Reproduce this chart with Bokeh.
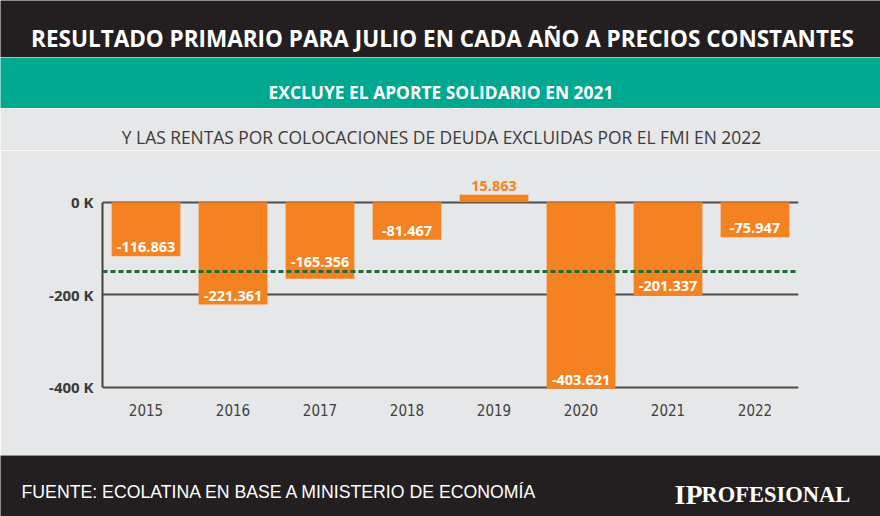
from bokeh.plotting import figure
from bokeh.layouts import column, row
from bokeh.models import Range1d, FactorRange, FixedTicker, Span, ColumnDataSource
from bokeh.core.properties import value
from bokeh.embed import file_html
from bokeh.resources import INLINE

# ---- data ----
years = ["2015", "2016", "2017", "2018", "2019", "2020", "2021", "2022"]
resultado = [-116863, -221361, -165356, -81467, 15863, -403621, -201337, -75947]
referencia = -150000
y_ticks = [0, -200000, -400000]
y_tick_labels = ["0 K", "-200 K", "-400 K"]

titulo = "RESULTADO PRIMARIO PARA JULIO EN CADA AÑO A PRECIOS CONSTANTES"
subtitulo = "EXCLUYE EL APORTE SOLIDARIO EN 2021"
nota = "Y LAS RENTAS POR COLOCACIONES DE DEUDA EXCLUIDAS POR EL FMI EN 2022"
fuente = "FUENTE: ECOLATINA EN BASE A MINISTERIO DE ECONOMÍA"
marca_a = "IP"
marca_b = "ROFESIONAL"

# ---- styles ----
W = 880
FL, FR = 102, 798          # chart frame left / right (page pixels)
DARK = "#231f20"
GREEN = "#00a88f"
GRAY = "#e6e7e8"
ORANGE = "#f58220"


def band(h, color):
    b = figure(width=W, height=h, x_range=Range1d(0, W), y_range=Range1d(0, h),
               x_axis_location=None, y_axis_location=None, toolbar_location=None,
               output_backend="svg", min_border=0, background_fill_color=color,
               border_fill_color=color, outline_line_color=None)
    b.grid.visible = False
    return b


def txt(fig, x, y, s, font, size, color="white", style="normal", align="center"):
    fig.text(x=[x], y=[y], text=[s], text_font=value(font), text_font_size=size,
             text_font_style=style, text_color=color, text_align=align,
             text_baseline="alphabetic")


hdr = band(57, DARK)
txt(hdr, 442, 19.3, titulo, "Open Sans", "22.5px", style="bold")

grn = band(51, GREEN)
txt(grn, 440.5, 17, subtitulo, "Open Sans", "17.4px", style="bold")

sub = band(42, GRAY)
txt(sub, 441, 13.3, nota, "Open Sans", "17.4px", color="#3a3a3a")

# ---- chart ----
labels = [f"{v:,}".replace(",", ".") for v in resultado]
label_colors = ["white" if v < 0 else ORANGE for v in resultado]
# lift a label that would sit on the dashed reference line
label_offsets = [-17 if abs(v - referencia) < 20000 else -9 for v in resultado]
src = ColumnDataSource(dict(year=years, value=resultado, label=labels,
                            color=label_colors, dy=label_offsets))

p = figure(width=W, height=305, x_range=FactorRange(factors=years),
           y_range=Range1d(-411500, 68500), toolbar_location=None, output_backend="svg",
           min_border_left=FL, min_border_right=W - FR, min_border_top=20, min_border_bottom=63,
           background_fill_color=GRAY, border_fill_color=GRAY,
           outline_line_color=GRAY, outline_line_width=2)

p.vbar(x="year", top="value", bottom=0, width=0.79, source=src,
       fill_color=ORANGE, line_color=None)
p.text(x="year", y="value", text="label", text_color="color", source=src,
       text_align="center", text_baseline="middle", y_offset="dy",
       text_font=value("Open Sans"), text_font_style="bold", text_font_size="14.5px")

p.add_layout(Span(location=referencia, dimension="width", line_color="#1d6b37",
                  line_width=3, line_dash="5 3"))

p.yaxis.ticker = FixedTicker(ticks=y_ticks)
p.yaxis.major_label_overrides = dict(zip(y_ticks, y_tick_labels))
p.yaxis.bounds = (-400000, 0)
p.yaxis.axis_line_color = "#404040"
p.yaxis.axis_line_width = 2
p.yaxis.major_tick_line_color = None
p.yaxis.minor_tick_line_color = None
p.yaxis.major_tick_out = 0
p.yaxis.major_tick_in = 0
p.yaxis.major_label_text_font = "Open Sans"
p.yaxis.major_label_text_font_style = "bold"
p.yaxis.major_label_text_font_size = "15px"
p.yaxis.major_label_text_color = "#3a3a3a"
p.yaxis.major_label_standoff = 9

p.ygrid.ticker = FixedTicker(ticks=y_ticks)
p.ygrid.grid_line_color = "#4d4d4d"
p.ygrid.grid_line_width = 2
p.xgrid.grid_line_color = None

p.xaxis.axis_line_color = None
p.xaxis.major_tick_line_color = None
p.xaxis.major_tick_out = 0
p.xaxis.major_tick_in = 0
p.xaxis.major_label_text_font = "DejaVu Sans Condensed"
p.xaxis.major_label_text_font_size = "15px"
p.xaxis.major_label_text_color = "#404040"
p.xaxis.major_label_standoff = 11

# ---- footer ----
ftr = band(61, DARK)
txt(ftr, 21, 24.3, fuente, "Liberation Sans", "17.7px", align="left")
txt(ftr, 674, 21.7, marca_a, "Liberation Serif", "28px", style="bold", align="left")
txt(ftr, 701, 21.7, marca_b, "Liberation Serif", "22.5px", style="bold", align="left")

layout = column(hdr, grn, sub, row(p, spacing=0), ftr, spacing=0)
open("out.html", "w").write(file_html(layout, INLINE))
